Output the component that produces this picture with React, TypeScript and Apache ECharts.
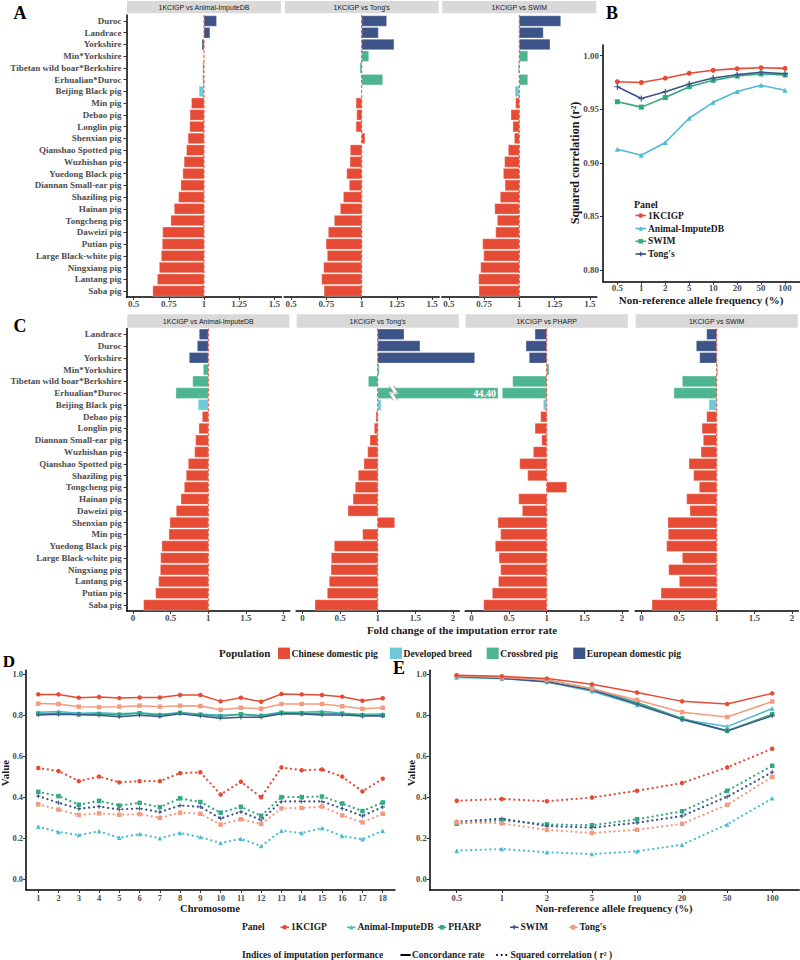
import React, { useEffect, useRef } from "react";
import * as echarts from "echarts";

const SERIF = "Liberation Serif";
const SANS = "Liberation Sans";
const TICK_COLOR = "#4D4D4D";

// ---------------- Population groups ----------------
const europeanBreeds = ["Duroc", "Landrace", "Yorkshire"];
const crossbredPigs = ["Min*Yorkshire", "Tibetan wild boar*Berkshire", "Erhualian*Duroc"];
const developedBreeds = ["Beijing Black pig"];
const populationLegend = ["Chinese domestic pig", "Developed breed", "Crossbred pig", "European domestic pig"];
const populationColors = ["#E64B35", "#6DCBD9", "#4DB591", "#3D5488"];

// ---------------- Panel A ----------------
const facetTitlesA = ["1KCIGP vs Animal-ImputeDB", "1KCIGP vs Tong's", "1KCIGP vs SWIM"];
const popA = [
  "Duroc", "Landrace", "Yorkshire", "Min*Yorkshire", "Tibetan wild boar*Berkshire", "Erhualian*Duroc",
  "Beijing Black pig", "Min pig", "Debao pig", "Longlin pig", "Shenxian pig", "Qianshao Spotted pig",
  "Wuzhishan pig", "Yuedong Black pig", "Diannan Small-ear pig", "Shaziling pig", "Hainan pig",
  "Tongcheng pig", "Daweizi pig", "Putian pig", "Large Black-white pig", "Ningxiang pig", "Lantang pig", "Saba pig",
];
const aVsImputeDB = [1.089, 1.042, 0.986, 0.998, 0.991, 0.991, 0.965, 0.911, 0.901, 0.899, 0.887, 0.876, 0.859, 0.85, 0.836, 0.82, 0.789, 0.765, 0.707, 0.704, 0.697, 0.683, 0.669, 0.637];
const aVsTong = [1.177, 1.118, 1.229, 1.05, 0.988, 1.149, 0.999, 0.96, 0.965, 0.96, 1.023, 0.919, 0.917, 0.894, 0.912, 0.87, 0.848, 0.806, 0.763, 0.747, 0.756, 0.73, 0.716, 0.733];
const aVsSwim = [1.294, 1.17, 1.218, 1.06, 0.993, 1.06, 0.97, 0.974, 0.941, 0.955, 0.965, 0.922, 0.896, 0.887, 0.899, 0.865, 0.826, 0.844, 0.833, 0.74, 0.748, 0.726, 0.712, 0.714];
const ticksA = [0.5, 0.75, 1, 1.25, 1.5];

// ---------------- Panel C ----------------
const facetTitlesC = ["1KCIGP vs Animal-ImputeDB", "1KCIGP vs Tong's", "1KCIGP vs PHARP", "1KCIGP vs SWIM"];
const popC = [
  "Landrace", "Duroc", "Yorkshire", "Min*Yorkshire", "Tibetan wild boar*Berkshire", "Erhualian*Duroc",
  "Beijing Black pig", "Debao pig", "Longlin pig", "Diannan Small-ear pig", "Wuzhishan pig", "Qianshao Spotted pig",
  "Shaziling pig", "Tongcheng pig", "Hainan pig", "Daweizi pig", "Shenxian pig", "Min pig", "Yuedong Black pig",
  "Large Black-white pig", "Ningxiang pig", "Lantang pig", "Putian pig", "Saba pig",
];
const cVsImputeDB = [0.88, 0.854, 0.747, 0.934, 0.793, 0.57, 0.867, 0.92, 0.876, 0.832, 0.819, 0.734, 0.707, 0.681, 0.637, 0.574, 0.49, 0.477, 0.384, 0.367, 0.362, 0.34, 0.3, 0.14];
const cVsTong = [1.35, 1.562, 2.29, 1.02, 0.876, 44.4, 1.045, 0.977, 0.955, 0.898, 0.867, 0.818, 0.742, 0.702, 0.672, 0.605, 1.226, 0.8, 0.423, 0.383, 0.379, 0.356, 0.33, 0.166];
const cVsPharp = [0.845, 0.725, 0.768, 1.03, 0.548, 0.41, 0.955, 0.92, 0.845, 0.934, 0.822, 0.641, 0.747, 1.266, 0.628, 0.676, 0.352, 0.388, 0.317, 0.367, 0.388, 0.359, 0.277, 0.162];
const cVsSwim = [0.867, 0.729, 0.774, 1.013, 0.543, 0.432, 0.898, 0.867, 0.805, 0.822, 0.791, 0.632, 0.694, 0.769, 0.601, 0.645, 0.352, 0.356, 0.335, 0.543, 0.362, 0.503, 0.26, 0.14];
const ticksC = [0, 0.5, 1, 1.5, 2];
const foldChangeNull = 1;
const brokenBarCap = 2.6; // display cap for the axis-broken bar
const brokenBarBreakAt = 1.21;

// ---------------- Panel B ----------------
const freqLabels = ["0.5", "1", "2", "5", "10", "20", "50", "100"];
const freqIdx = [0, 1, 2, 3, 4, 5, 6, 7];
const panelsB = ["1KCIGP", "Animal-ImputeDB", "SWIM", "Tong's"];
const bR2_1KCIGP = [0.9757, 0.975, 0.979, 0.9836, 0.9864, 0.9879, 0.9888, 0.9882];
const bR2_ImputeDB = [0.9127, 0.907, 0.919, 0.9416, 0.9565, 0.9665, 0.9724, 0.9677];
const bR2_SWIM = [0.957, 0.952, 0.961, 0.971, 0.977, 0.981, 0.983, 0.982];
const bR2_Tong = [0.971, 0.96, 0.9664, 0.9736, 0.9792, 0.9823, 0.9845, 0.9832];
const ticksB = [0.8, 0.85, 0.9, 0.95, 1.0];

// ---------------- Panels D & E ----------------
const panelsDE = ["1KCIGP", "Animal-ImputeDB", "PHARP", "SWIM", "Tong's"];
const chromosomes = [1, 2, 3, 4, 5, 6, 7, 8, 9, 10, 11, 12, 13, 14, 15, 16, 17, 18];
const dConc1KCIGP = [0.902, 0.902, 0.886, 0.889, 0.884, 0.887, 0.887, 0.899, 0.899, 0.868, 0.886, 0.866, 0.904, 0.902, 0.899, 0.891, 0.871, 0.883];
const dConcImputeDB = [0.815, 0.818, 0.81, 0.813, 0.807, 0.812, 0.805, 0.813, 0.806, 0.8, 0.805, 0.8, 0.815, 0.815, 0.82, 0.81, 0.805, 0.806];
const dConcPHARP = [0.808, 0.81, 0.805, 0.806, 0.803, 0.81, 0.8, 0.812, 0.803, 0.795, 0.805, 0.797, 0.812, 0.81, 0.81, 0.808, 0.8, 0.8];
const dConcSWIM = [0.801, 0.805, 0.803, 0.8, 0.793, 0.8, 0.794, 0.807, 0.797, 0.786, 0.79, 0.79, 0.808, 0.806, 0.801, 0.801, 0.797, 0.797];
const dConcTong = [0.857, 0.855, 0.842, 0.84, 0.842, 0.847, 0.842, 0.847, 0.845, 0.827, 0.837, 0.832, 0.855, 0.855, 0.855, 0.844, 0.832, 0.837];
const dR2_1KCIGP = [0.543, 0.528, 0.479, 0.501, 0.473, 0.479, 0.479, 0.518, 0.522, 0.414, 0.476, 0.4, 0.546, 0.532, 0.536, 0.501, 0.429, 0.491];
const dR2_ImputeDB = [0.257, 0.231, 0.216, 0.234, 0.203, 0.221, 0.2, 0.226, 0.206, 0.177, 0.198, 0.162, 0.237, 0.226, 0.25, 0.211, 0.195, 0.237];
const dR2_PHARP = [0.427, 0.406, 0.364, 0.383, 0.36, 0.373, 0.352, 0.395, 0.377, 0.325, 0.354, 0.31, 0.401, 0.401, 0.404, 0.37, 0.333, 0.375];
const dR2_SWIM = [0.406, 0.373, 0.344, 0.355, 0.341, 0.346, 0.328, 0.36, 0.354, 0.297, 0.33, 0.289, 0.38, 0.38, 0.38, 0.346, 0.309, 0.353];
const dR2_Tong = [0.366, 0.34, 0.314, 0.322, 0.315, 0.318, 0.3, 0.325, 0.32, 0.267, 0.293, 0.27, 0.346, 0.348, 0.355, 0.312, 0.278, 0.32];

const eConc1KCIGP = [0.995, 0.99, 0.979, 0.951, 0.911, 0.868, 0.855, 0.907];
const eConcImputeDB = [0.985, 0.979, 0.962, 0.917, 0.85, 0.78, 0.745, 0.833];
const eConcPHARP = [0.992, 0.987, 0.972, 0.93, 0.863, 0.785, 0.725, 0.805];
const eConcSWIM = [0.99, 0.98, 0.964, 0.923, 0.855, 0.78, 0.723, 0.798];
const eConcTong = [0.993, 0.985, 0.972, 0.93, 0.875, 0.815, 0.792, 0.867];
const eR2_1KCIGP = [0.383, 0.392, 0.381, 0.399, 0.432, 0.47, 0.546, 0.637];
const eR2_ImputeDB = [0.14, 0.148, 0.132, 0.123, 0.137, 0.169, 0.268, 0.395];
const eR2_PHARP = [0.271, 0.289, 0.268, 0.264, 0.293, 0.332, 0.432, 0.554];
const eR2_SWIM = [0.281, 0.296, 0.26, 0.252, 0.276, 0.309, 0.403, 0.523];
const eR2_Tong = [0.278, 0.273, 0.241, 0.226, 0.242, 0.271, 0.363, 0.5];
const ticksDE = [0, 0.2, 0.4, 0.6, 0.8, 1.0];

// ---------------- styling ----------------
const C_RED = "#E64B35";
const C_CYAN = "#4DBBD5";
const C_GREEN = "#33A882";
const C_BLUE = "#3C5488";
const C_SALMON = "#F39B7F";
const PLUS = "path://M4,0H6V4H10V6H6V10H4V6H0V4H4Z";

function popColor(name: string) {
  if (europeanBreeds.includes(name)) return populationColors[3];
  if (crossbredPigs.includes(name)) return populationColors[2];
  if (developedBreeds.includes(name)) return populationColors[1];
  return populationColors[0];
}

const axisLine = { show: true, onZero: false, lineStyle: { color: "#000", width: 1.5 } };

function valueAxis(gridIndex: number, min: number, max: number, ticks: number[], fmt: (v: number) => string, extra: any = {}) {
  return {
    type: "value",
    gridIndex,
    min,
    max,
    axisLine,
    splitLine: { show: false },
    axisTick: { show: true, length: 3, customValues: ticks, lineStyle: { color: "#333", width: 1 } },
    axisLabel: {
      customValues: ticks,
      formatter: fmt,
      color: TICK_COLOR,
      fontWeight: "bold",
      fontSize: 9,
      fontFamily: SERIF,
      margin: 3,
      ...extra,
    },
  };
}

function catAxis(gridIndex: number, cats: string[], show: boolean) {
  if (!show) return { type: "category", gridIndex, data: cats, inverse: true, show: false };
  return {
    type: "category",
    gridIndex,
    data: cats,
    inverse: true,
    axisLine,
    axisTick: { show: true, length: 3, alignWithLabel: true, lineStyle: { color: "#333", width: 1 } },
    axisLabel: { interval: 0, color: TICK_COLOR, fontWeight: "bold", fontSize: 9, fontFamily: SERIF, margin: 5 },
  };
}

function barSeries(gi: number, cats: string[], values: number[], opts: { clip?: boolean; cap?: number; breakAt?: number } = {}) {
  return {
    type: "custom",
    xAxisIndex: gi,
    yAxisIndex: gi,
    clip: opts.clip === undefined ? true : opts.clip,
    encode: { x: 0, y: 1 },
    data: values.map((v, i) => [v, i]),
    z: 2,
    renderItem: (params: any, api: any) => {
      const v = api.value(0) as number;
      const ci = api.value(1) as number;
      const shown = opts.cap !== undefined ? Math.min(v, opts.cap) : v;
      const p0 = api.coord([foldChangeNull, ci]);
      const p1 = api.coord([shown, ci]);
      const band = api.size([0, 1])[1];
      const h = band * 0.9;
      const x = Math.min(p0[0], p1[0]);
      const w = Math.abs(p1[0] - p0[0]);
      const y = p0[1] - h / 2;
      const color = popColor(cats[ci]);
      const children: any[] = [
        { type: "rect", shape: { x, y, width: w, height: h }, style: { fill: color, stroke: "rgba(255,255,255,0.55)", lineWidth: 0.6 } },
      ];
      if (opts.cap !== undefined && v > opts.cap && opts.breakAt !== undefined) {
        const bx = api.coord([opts.breakAt, ci])[0];
        const zig = (dx: number) => [
          [bx - 2 + dx, y - 2],
          [bx + 2 + dx, y + h * 0.42],
          [bx - 2 + dx, y + h * 0.58],
          [bx + 2 + dx, y + h + 2],
        ];
        children.push({ type: "polyline", shape: { points: zig(0) }, style: { stroke: "#fff", lineWidth: 4, fill: null } });
        children.push({ type: "polyline", shape: { points: zig(-2.2) }, style: { stroke: "#666", lineWidth: 0.6, fill: null } });
        children.push({ type: "polyline", shape: { points: zig(2.2) }, style: { stroke: "#666", lineWidth: 0.6, fill: null } });
        children.push({
          type: "text",
          x: p1[0] - 2,
          y: p0[1],
          style: { text: v.toFixed(2), align: "right", verticalAlign: "middle", fill: "#fff", fontSize: 10, fontWeight: "bold", fontFamily: SERIF },
        });
      }
      return { type: "group", children };
    },
  };
}

function refLineSeries(gi: number) {
  return {
    type: "custom",
    xAxisIndex: gi,
    yAxisIndex: gi,
    silent: true,
    z: 5,
    encode: { x: 0, y: 1 },
    data: [[foldChangeNull, 0]],
    renderItem: (params: any, api: any) => {
      const cs = params.coordSys;
      const px = api.coord([api.value(0), api.value(1)])[0];
      return {
        type: "line",
        shape: { x1: px, y1: cs.y, x2: px, y2: cs.y + cs.height },
        style: { stroke: C_RED, lineWidth: 1, lineDash: [3, 2] },
      };
    },
  };
}

function lineSeries(gi: number, name: string, xs: number[], ys: number[], color: string, symbol: string, dotted: boolean, size = 4.5, width = 1.5) {
  return {
    type: "line",
    name,
    xAxisIndex: gi,
    yAxisIndex: gi,
    data: xs.map((x, i) => [x, ys[i]]),
    symbol,
    symbolSize: size,
    showSymbol: true,
    itemStyle: { color },
    lineStyle: dotted ? { color, width: 2.2, type: [0.1, 4.7], cap: "round" } : { color, width },
    z: dotted ? 3 : 4,
  };
}

function txt(text: string, x: number, y: number, o: any = {}) {
  return {
    type: "text",
    x,
    y,
    rotation: o.rotation || 0,
    silent: true,
    z: 100,
    style: {
      text,
      fill: o.fill || "#1A1A1A",
      fontSize: o.size || 10,
      fontWeight: o.weight || "bold",
      fontFamily: o.family || SERIF,
      align: o.align || "left",
      verticalAlign: "middle",
    },
  };
}

function marker(kind: string, cx: number, cy: number, color: string, s = 5) {
  if (kind === "circle") return { type: "circle", silent: true, z: 101, shape: { cx, cy, r: s / 2 }, style: { fill: color } };
  if (kind === "triangle")
    return { type: "polygon", silent: true, z: 101, shape: { points: [[cx, cy - s / 2], [cx + s / 2, cy + s / 2], [cx - s / 2, cy + s / 2]] }, style: { fill: color } };
  if (kind === "rect") return { type: "rect", silent: true, z: 101, shape: { x: cx - s / 2, y: cy - s / 2, width: s, height: s }, style: { fill: color } };
  return {
    type: "group",
    silent: true,
    z: 101,
    children: [
      { type: "line", shape: { x1: cx - s / 2, y1: cy, x2: cx + s / 2, y2: cy }, style: { stroke: color, lineWidth: 1.4 } },
      { type: "line", shape: { x1: cx, y1: cy - s / 2, x2: cx, y2: cy + s / 2 }, style: { stroke: color, lineWidth: 1.4 } },
    ],
  };
}

function legendItem(kind: string, x1: number, x2: number, cy: number, color: string, label: string, size = 9.5) {
  return [
    { type: "line", silent: true, z: 100, shape: { x1, y1: cy, x2, y2: cy }, style: { stroke: color, lineWidth: 1.6 } },
    marker(kind, (x1 + x2) / 2, cy, color, 4.5),
    txt(label, x2 + 2, cy, { size }),
  ];
}

function strip(x: number, y: number, w: number, h: number, label: string) {
  return [
    { type: "rect", silent: true, z: 90, shape: { x, y, width: w, height: h }, style: { fill: "#D9D9D9" } },
    txt(label, x + w / 2, y + h / 2, { size: 7, weight: "normal", family: SANS, align: "center" }),
  ];
}

function buildOption() {
  const gridA = [126.5, 284.2, 441.8].map((left) => ({ left, top: 15.1, width: 155, height: 281.8 }));
  const gridB = { left: 603, top: 45, width: 196.4, height: 236.7 };
  const gridC = [126.7, 296.1, 465.1, 635.1].map((left) => ({ left, top: 328.4, width: 163.2, height: 282.5 }));
  const gridD = { left: 26.1, top: 670.2, width: 368.8, height: 219.8 };
  const gridE = { left: 429.7, top: 670.2, width: 369.6, height: 219.8 };
  const grids = [...gridA, gridB, ...gridC, gridD, gridE].map((g) => ({ ...g, outerBoundsMode: "none", containLabel: false }));

  const fmtPlain = (v: number) => String(v);
  const xAxes: any[] = [
    valueAxis(0, 0.45, 1.55, ticksA, fmtPlain),
    valueAxis(1, 0.45, 1.55, ticksA, fmtPlain),
    valueAxis(2, 0.45, 1.55, ticksA, fmtPlain),
    valueAxis(3, -0.6, 7.6, freqIdx, (v: number) => freqLabels[Math.round(v)], { margin: 2 }),
    valueAxis(4, -0.085, 2.085, ticksC, fmtPlain),
    valueAxis(5, -0.085, 2.085, ticksC, fmtPlain),
    valueAxis(6, -0.085, 2.085, ticksC, fmtPlain),
    valueAxis(7, -0.085, 2.085, ticksC, fmtPlain),
    valueAxis(8, 0.4, 18.6, chromosomes, fmtPlain, { fontSize: 8.5 }),
    valueAxis(9, -0.6, 7.6, freqIdx, (v: number) => freqLabels[Math.round(v)], { fontSize: 8.5 }),
  ];
  const yAxes: any[] = [
    catAxis(0, popA, true),
    catAxis(1, popA, false),
    catAxis(2, popA, false),
    valueAxis(3, 0.789, 1.01, ticksB, (v: number) => v.toFixed(2), { margin: 4 }),
    catAxis(4, popC, true),
    catAxis(5, popC, false),
    catAxis(6, popC, false),
    catAxis(7, popC, false),
    valueAxis(8, -0.052, 1.02, ticksDE, (v: number) => v.toFixed(1), { fontSize: 8.5 }),
    valueAxis(9, -0.052, 1.02, ticksDE, (v: number) => v.toFixed(1), { fontSize: 8.5 }),
  ];

  const series: any[] = [
    barSeries(0, popA, aVsImputeDB),
    barSeries(1, popA, aVsTong),
    barSeries(2, popA, aVsSwim),
    refLineSeries(0),
    refLineSeries(1),
    refLineSeries(2),
    barSeries(4, popC, cVsImputeDB),
    barSeries(5, popC, cVsTong, { clip: false, cap: brokenBarCap, breakAt: brokenBarBreakAt }),
    barSeries(6, popC, cVsPharp),
    barSeries(7, popC, cVsSwim),
    refLineSeries(4),
    refLineSeries(5),
    refLineSeries(6),
    refLineSeries(7),
    lineSeries(3, "ImputeDB-B", freqIdx, bR2_ImputeDB, C_CYAN, "triangle", false, 5, 1.6),
    lineSeries(3, "SWIM-B", freqIdx, bR2_SWIM, C_GREEN, "rect", false, 5, 1.6),
    lineSeries(3, "Tong-B", freqIdx, bR2_Tong, C_BLUE, PLUS, false, 6, 1.6),
    lineSeries(3, "1KCIGP-B", freqIdx, bR2_1KCIGP, C_RED, "circle", false, 5, 1.6),
  ];

  const deColors = [C_RED, C_CYAN, C_GREEN, C_BLUE, C_SALMON];
  const deSymbols = ["circle", "triangle", "rect", PLUS, "rect"];
  const dConc = [dConc1KCIGP, dConcImputeDB, dConcPHARP, dConcSWIM, dConcTong];
  const dR2 = [dR2_1KCIGP, dR2_ImputeDB, dR2_PHARP, dR2_SWIM, dR2_Tong];
  const eConc = [eConc1KCIGP, eConcImputeDB, eConcPHARP, eConcSWIM, eConcTong];
  const eR2 = [eR2_1KCIGP, eR2_ImputeDB, eR2_PHARP, eR2_SWIM, eR2_Tong];
  const drawOrder = [1, 2, 3, 4, 0];
  drawOrder.forEach((k) => {
    series.push(lineSeries(8, panelsDE[k], chromosomes, dConc[k], deColors[k], deSymbols[k], false));
    series.push(lineSeries(8, panelsDE[k] + " r2", chromosomes, dR2[k], deColors[k], deSymbols[k], true));
    series.push(lineSeries(9, panelsDE[k] + " E", freqIdx, eConc[k], deColors[k], deSymbols[k], false));
    series.push(lineSeries(9, panelsDE[k] + " E r2", freqIdx, eR2[k], deColors[k], deSymbols[k], true));
  });

  const g: any[] = [];
  // facet strips
  gridA.forEach((gr, i) => g.push(...strip(gr.left + 0.5, 1, gr.width - 1, 12.3, facetTitlesA[i])));
  gridC.forEach((gr, i) => g.push(...strip(gr.left + 0.5, 314.3, gr.width - 1, 13.4, facetTitlesC[i])));

  // panel letters
  g.push(txt("A", 20, 13, { size: 18, align: "center", fill: "#000" }));
  g.push(txt("B", 612, 13, { size: 18, align: "center", fill: "#000" }));
  g.push(txt("C", 20, 326, { size: 18, align: "center", fill: "#000" }));
  g.push(txt("D", 9, 661, { size: 17, align: "center", fill: "#000" }));
  g.push(txt("E", 399, 668, { size: 18, align: "center", fill: "#000" }));

  // axis titles
  g.push(txt("Non-reference allele frequency (%)", 701, 299.5, { size: 11, align: "center" }));
  g.push(txt("Squared correlation (r²)", 575, 163, { size: 12, align: "center", rotation: Math.PI / 2 }));
  g.push(txt("Fold change of the imputation error rate", 462, 629.5, { size: 11, align: "center" }));
  g.push(txt("Chromosome", 210, 908, { size: 10.5, align: "center" }));
  g.push(txt("Non-reference allele frequency (%)", 614, 908, { size: 10.5, align: "center" }));
  g.push(txt("Value", 5, 773, { size: 11, align: "center", rotation: Math.PI / 2 }));
  g.push(txt("Value", 411, 773, { size: 11, align: "center", rotation: Math.PI / 2 }));

  // B legend
  g.push(txt("Panel", 634, 204, { size: 10 }));
  const bLegY = [215.5, 228.5, 241.3, 254];
  const bColors = [C_RED, C_CYAN, C_GREEN, C_BLUE];
  const bSym = ["circle", "triangle", "rect", "plus"];
  panelsB.forEach((p, i) => g.push(...legendItem(bSym[i], 635.5, 646, bLegY[i], bColors[i], p, 9.5)));

  // Population legend
  g.push(txt("Population", 219, 653.3, { size: 11 }));
  const popRectX = [278, 390, 486.7, 573.3];
  populationLegend.forEach((p, i) => {
    g.push({ type: "rect", silent: true, z: 100, shape: { x: popRectX[i], y: 647.6, width: 12, height: 11.4 }, style: { fill: populationColors[i] } });
    g.push(txt(p, popRectX[i] + 13.5, 653.3, { size: 9.6 }));
  });

  // Panel legend (D/E)
  g.push(txt("Panel", 242, 927.3, { size: 9.5 }));
  const deLegX = [280.5, 347, 437.8, 510, 569];
  const deSymL = ["circle", "triangle", "rect", "plus", "rect"];
  panelsDE.forEach((p, i) => g.push(...legendItem(deSymL[i], deLegX[i], deLegX[i] + 8.5, 927.3, deColors[i], p, 9.5)));

  // Indices legend
  g.push(txt("Indices of imputation performance", 242, 955, { size: 9.5 }));
  g.push({ type: "line", silent: true, z: 100, shape: { x1: 400.5, y1: 955, x2: 410.7, y2: 955 }, style: { stroke: "#000", lineWidth: 2 } });
  g.push(txt("Concordance rate", 412, 955, { size: 9.5 }));
  g.push({ type: "line", silent: true, z: 100, shape: { x1: 497, y1: 955, x2: 508, y2: 955 }, style: { stroke: "#000", lineWidth: 2, lineDash: [0.1, 4.5], lineCap: "round" } });
  g.push(txt("Squared correlation ( r² )", 510.5, 955, { size: 9.5 }));

  return {
    animation: false,
    backgroundColor: "#fff",
    textStyle: { fontFamily: SERIF },
    grid: grids,
    xAxis: xAxes,
    yAxis: yAxes,
    series,
    graphic: { elements: g },
  };
}

export default function App() {
  const ref = useRef<HTMLDivElement>(null);
  useEffect(() => {
    if (!ref.current) return;
    const chart = echarts.init(ref.current, undefined, { renderer: "svg" });
    chart.setOption(buildOption() as any);
    return () => chart.dispose();
  }, []);
  return <div ref={ref} style={{ position: "absolute", left: 0, top: 0, width: 800, height: 960, background: "#fff" }} />;
}
